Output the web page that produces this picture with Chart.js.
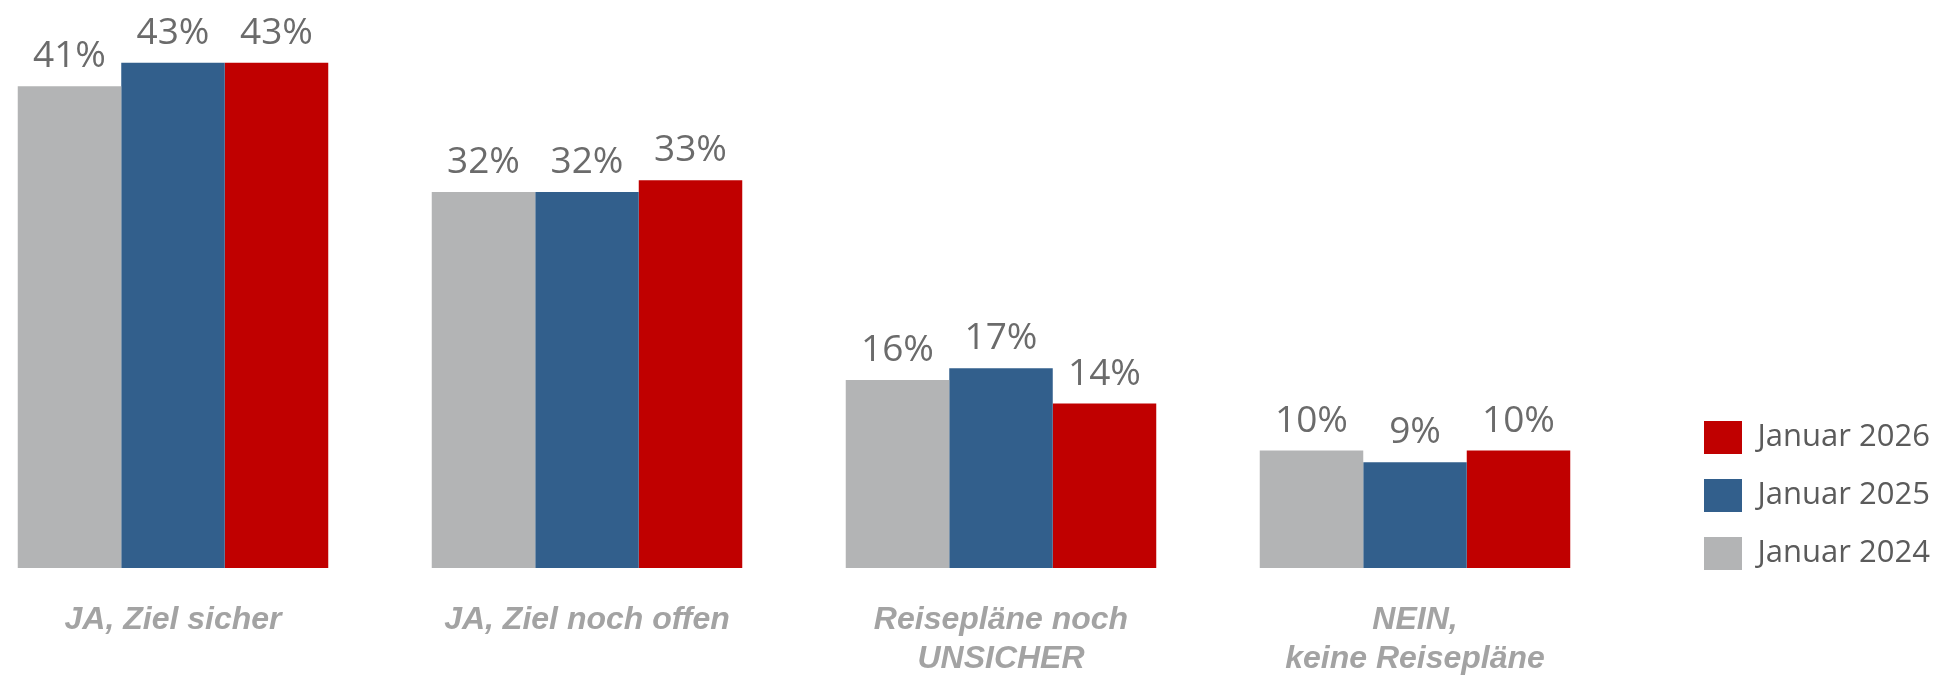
<!DOCTYPE html>
<html>
<head>
<meta charset="utf-8">
<script src="https://cdn.jsdelivr.net/npm/chart.js@4/dist/chart.umd.min.js"></script>
<style>
  html, body { margin: 0; padding: 0; background: #ffffff; overflow: hidden; }
  #wrap { width: 1939px; height: 677px; position: relative; overflow: hidden; }
  #c { position: absolute; left: -34px; top: 0; }
</style>
</head>
<body>
<div id="wrap"><canvas id="c" width="1973" height="677"></canvas></div>
<script>
// ---- data ----
const categories = [
  ['JA, Ziel sicher'],
  ['JA, Ziel noch offen'],
  ['Reisepläne noch', 'UNSICHER'],
  ['NEIN,', 'keine Reisepläne']
];
const seriesNames = ['Januar 2024', 'Januar 2025', 'Januar 2026'];
const jan2024 = [41, 32, 16, 10];
const jan2025 = [43, 32, 17, 9];
const jan2026 = [43, 33, 14, 10];
const yMax = 48;

// ---- styles ----
const colors = ['#b3b4b5', '#325f8c', '#c00000'];
const legendFont = { family: '"Open Sans", sans-serif', size: 31 };
const valueFont = '37px "Open Sans", sans-serif';

// legend placement helper (layout only)
const mctx = document.createElement('canvas').getContext('2d');
mctx.font = legendFont.size + 'px ' + legendFont.family;
const legendTextW = Math.max(...seriesNames.map(s => mctx.measureText(s).width));
const padRight = 171.5 - legendTextW;

const valueLabels = {
  id: 'valueLabels',
  afterDatasetsDraw(chart) {
    const ctx = chart.ctx;
    ctx.save();
    ctx.font = valueFont;
    ctx.fillStyle = '#6b6b6b';
    ctx.textAlign = 'center';
    ctx.textBaseline = 'alphabetic';
    chart.data.datasets.forEach((ds, di) => {
      const meta = chart.getDatasetMeta(di);
      meta.data.forEach((bar, i) => {
        ctx.fillText(ds.data[i] + '%', bar.x, bar.y - 19);
      });
    });
    ctx.restore();
  }
};

new Chart(document.getElementById('c'), {
  type: 'bar',
  data: {
    labels: categories,
    datasets: [
      { label: seriesNames[0], data: jan2024, backgroundColor: colors[0], borderWidth: 0 },
      { label: seriesNames[1], data: jan2025, backgroundColor: colors[1], borderWidth: 0 },
      { label: seriesNames[2], data: jan2026, backgroundColor: colors[2], borderWidth: 0 }
    ]
  },
  options: {
    responsive: false,
    animation: false,
    devicePixelRatio: 1,
    layout: { padding: { left: 0, right: padRight, top: 4, bottom: 82 } },
    datasets: { bar: { barPercentage: 1.0, categoryPercentage: 0.75 } },
    scales: {
      x: {
        grid: { display: false, drawTicks: false },
        border: { display: false },
        ticks: {
          color: '#a3a3a3',
          font: { family: '"Liberation Sans", Arial, sans-serif', size: 32, style: 'italic', weight: 'bold', lineHeight: 1.22 },
          mirror: true,
          padding: -72,
          maxRotation: 0,
          autoSkip: false
        },
        afterFit(scale) { scale.height = 27; }
      },
      y: {
        position: 'right',
        min: 0,
        max: yMax,
        grid: { display: false, drawTicks: false },
        border: { display: false },
        ticks: { display: false },
        afterFit(scale) { scale.width = 57; }
      }
    },
    plugins: {
      tooltip: { enabled: false },
      legend: {
        position: 'right',
        align: 'end',
        reverse: true,
        labels: {
          boxWidth: 38,
          boxHeight: 33,
          padding: 25,
          color: '#5b5b5b',
          font: legendFont
        }
      }
    }
  },
  plugins: [valueLabels]
});
</script>
</body>
</html>
